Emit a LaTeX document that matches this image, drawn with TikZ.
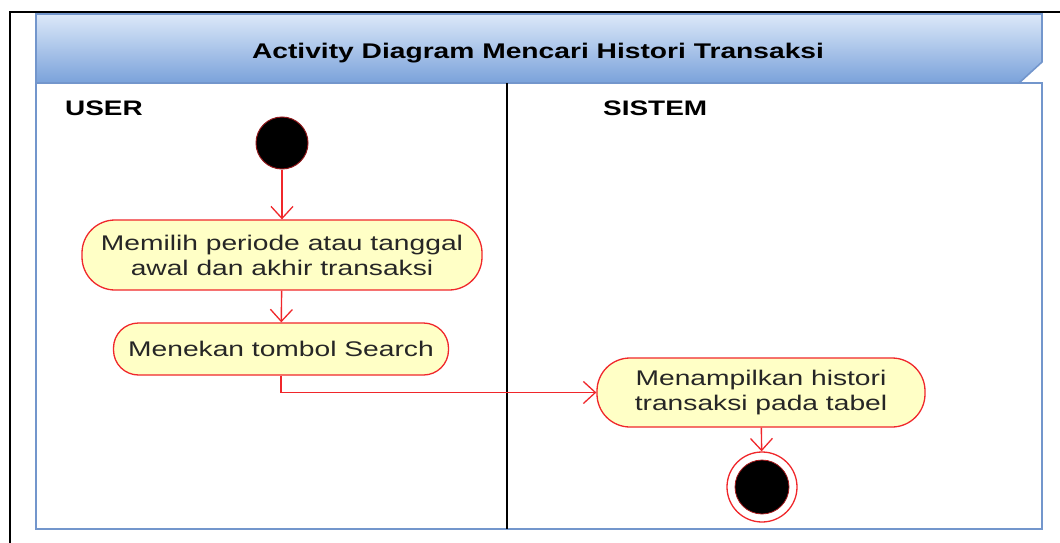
\documentclass[tikz,border=0pt]{standalone}
\usepackage{fontspec}
\setmainfont{Liberation Sans}
\newfontfamily\wide[FakeStretch=1.33]{Liberation Sans}
\usetikzlibrary{arrows.meta,shadings}
\definecolor{laneblue}{HTML}{7396CC}
\definecolor{headtop}{HTML}{DCE8F9}
\definecolor{headbot}{HTML}{7AA2DA}
\definecolor{actfill}{HTML}{FFFFC6}
\definecolor{actred}{HTML}{F0272B}
\tikzset{
  activity/.style={draw=actred, line width=1.3pt, fill=actfill, rounded corners=26pt,
    font=\wide\fontsize{21.2}{25}\selectfont, align=center, inner sep=0pt, text=black!85},
  flow/.style={draw=actred, line width=1.4pt, -{Straight Barb[length=12pt,width=22pt,line width=1.3pt]}},
  lanelabel/.style={font=\wide\bfseries\fontsize{21}{24}\selectfont, anchor=west, inner sep=0pt},
}
\begin{document}
\begin{tikzpicture}[x=1pt,y=-1pt]
  \useasboundingbox (0,0) rectangle (1060,543);
  % page frame
  \draw[line width=1.2pt] (10,560) -- (10,12) -- (1070,12);
  % swimlane frame and header
  \draw[laneblue, line width=1.6pt, fill=white] (36,83) rectangle (1042,529);
  \shade[top color=headtop, bottom color=headbot] (36,14) -- (1042,14) -- (1042,62) -- (1019,83) -- (36,83) -- cycle;
  \draw[laneblue, line width=1.6pt] (36,83) -- (36,14) -- (1042,14) -- (1042,62) -- (1019,83) -- cycle;
  \node[font=\wide\bfseries\fontsize{21.2}{24}\selectfont] (title) at (538,53) {Activity Diagram Mencari Histori Transaksi};
  % lane divider
  \draw[line width=1.2pt] (507,83) -- (507,529);
  \node[lanelabel] (user) at (65,108) {USER};
  \node[lanelabel] (sistem) at (603,108) {SISTEM};
  % start node
  \node[circle, fill=black, draw=actred!60!black, line width=1pt, minimum size=52pt, inner sep=0pt] (start) at (282,143) {};
  % actions
  \node[activity, minimum width=400pt, minimum height=70pt, rounded corners=33pt] (pilih) at (282,255)
    {Memilih periode atau tanggal\\awal dan akhir transaksi};
  \node[activity, minimum width=335pt, minimum height=52pt, rounded corners=25pt] (tekan) at (281,349)
    {Menekan tombol Search};
  \node[activity, minimum width=328pt, minimum height=69pt, rounded corners=33pt] (tampil) at (761,392.5)
    {Menampilkan histori\\transaksi pada tabel};
  % end node
  \node[circle, draw=actred, line width=1.3pt, fill=white, minimum size=70pt, inner sep=0pt] (end) at (762,487) {};
  \node[circle, fill=black, draw=actred!70!black, line width=0.8pt, minimum size=54pt, inner sep=0pt] (endin) at (end.center) {};
  % control flows
  \draw[flow] (start) -- (pilih);
  \draw[flow] (pilih) -- (tekan);
  \draw[flow] (tekan.south) |- (tampil.west);
  \draw[flow] (tampil) -- (end);
\end{tikzpicture}
\end{document}
